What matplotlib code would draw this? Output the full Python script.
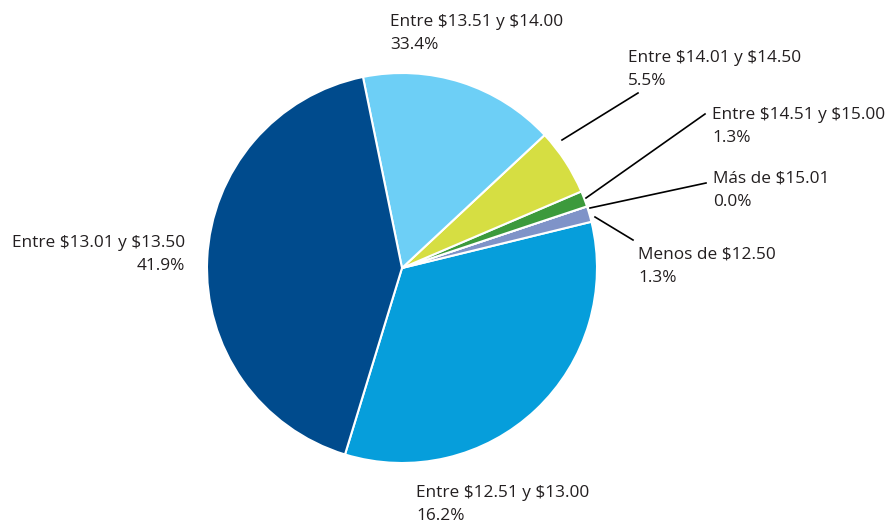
import matplotlib.pyplot as plt

# slices in drawing order (counter-clockwise on screen)
categories = ['Entre $12.51 y $13.00', 'Menos de $12.50', 'Más de $15.01',
              'Entre $14.51 y $15.00', 'Entre $14.01 y $14.50',
              'Entre $13.51 y $14.00', 'Entre $13.01 y $13.50']
shares = [33.4, 1.3, 0.0, 1.3, 5.5, 16.2, 41.9]
# percentages as printed on the chart
pct_text = ['16.2%', '1.3%', '0.0%', '1.3%', '5.5%', '33.4%', '41.9%']
colors = ['#069edb', '#7f93c8', '#7f93c8', '#3c9a3c', '#d6de42', '#6dcff6', '#004b8d']

plt.rcParams['font.family'] = ['Open Sans', 'DejaVu Sans']
plt.rcParams['text.parse_math'] = False

fig = plt.figure(figsize=(8.91, 5.24), dpi=100)
ax = fig.add_axes([0, 0, 1, 1])
ax.pie(shares, colors=colors, center=(402, 268), radius=195,
       startangle=107, counterclock=False,
       wedgeprops=dict(edgecolor='white', linewidth=1.5))
ax.set_xlim(0, 891)
ax.set_ylim(524, 0)
ax.axis('off')

# label anchor (x, baseline of first line, alignment)
label_pos = [(416, 497, 'left'), (638, 259, 'left'), (713, 183, 'left'),
             (712, 119, 'left'), (628, 62, 'left'), (390, 26, 'left'),
             (185, 247, 'right')]
for cat, pct, (x, y, ha) in zip(categories, pct_text, label_pos):
    ax.text(x, y, cat, ha=ha, va='baseline', fontsize=12.4, color='#231f20')
    ax.text(x, y + 23, pct, ha=ha, va='baseline', fontsize=12.4, color='#231f20')

# leader lines
leaders = [((595, 217), (633, 240)), ((590, 208), (706, 183)),
           ((586, 198), (705, 114)), ((562, 140), (638, 93))]
for (x0, y0), (x1, y1) in leaders:
    ax.plot([x0, x1], [y0, y1], color='black', lw=1.2)

fig.savefig('out.png', dpi=100)
